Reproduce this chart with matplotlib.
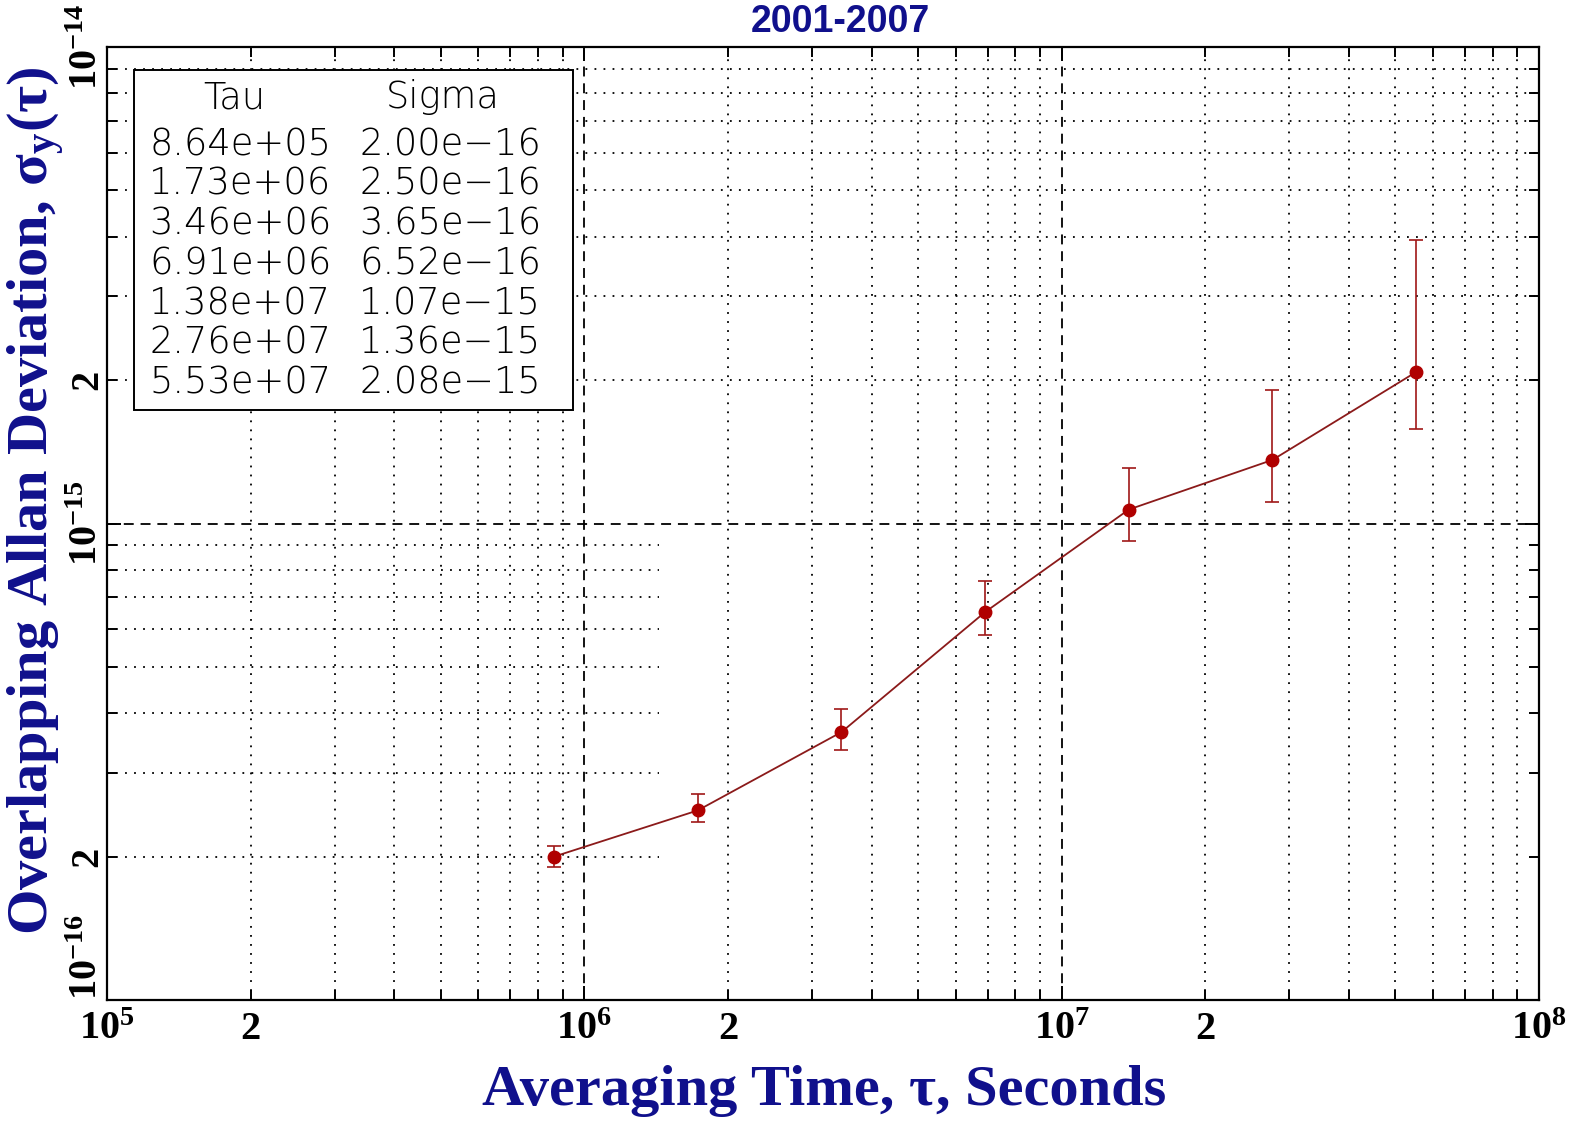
import matplotlib
matplotlib.use("Agg")
import matplotlib.pyplot as plt
from matplotlib.patches import Rectangle
import numpy as np

# Allan deviation results, 2001-2007
tau = [8.64e5, 1.728e6, 3.456e6, 6.912e6, 1.3824e7, 2.7648e7, 5.5296e7]
sigma = [2.00e-16, 2.50e-16, 3.65e-16, 6.52e-16, 1.07e-15, 1.36e-15, 2.08e-15]
sigma_lo = [1.90e-16, 2.36e-16, 3.34e-16, 5.83e-16, 0.92e-15, 1.11e-15, 1.58e-15]
sigma_hi = [2.10e-16, 2.70e-16, 4.08e-16, 7.58e-16, 1.31e-15, 1.91e-15, 3.93e-15]

x_decades = [1e5, 1e6, 1e7, 1e8]
y_decades = [1e-16, 1e-15, 1e-14]
mantissas = [2, 3, 4, 5, 6, 7, 8, 9]

navy = "#10108c"

plt.rcParams["font.family"] = ["Liberation Serif", "DejaVu Serif"]
plt.rcParams["font.weight"] = "bold"
plt.rcParams["mathtext.fontset"] = "custom"
plt.rcParams["mathtext.rm"] = "Liberation Serif:bold"
plt.rcParams["mathtext.it"] = "Liberation Serif:bold"
plt.rcParams["mathtext.bf"] = "Liberation Serif:bold"

fig = plt.figure(figsize=(15.77, 11.23), dpi=100)
ax = fig.add_axes([0.0679, 0.1095, 0.9080, 0.8486])
ax.set_xscale("log")
ax.set_yscale("log")
ax.set_xlim(x_decades[0], x_decades[-1])
ax.set_ylim(y_decades[0], y_decades[-1])

x_minor = [m * d for d in x_decades[:-1] for m in mantissas]
y_minor = [m * d for d in y_decades[:-1] for m in mantissas]

# grid: dashed at decades, dotted at minor positions
dot = (0, (1, 4))
dash = (0, (5.5, 3.8))
for v in x_decades[1:-1]:
    ax.axvline(v, color="black", lw=1.3, ls=dash, zorder=1)
for v in x_minor:
    ax.axvline(v, color="black", lw=1.3, ls=dot, zorder=1)
for v in y_decades[1:-1]:
    ax.axhline(v, color="black", lw=1.3, ls=dash, zorder=1)
for v in y_minor:
    if v < y_decades[1]:
        ax.hlines(v, x_decades[0], 1.43e6, color="black", lw=1.3, ls=dot, zorder=1)
    else:
        ax.axhline(v, color="black", lw=1.3, ls=dot, zorder=1)

# data
yerr = [np.array(sigma) - np.array(sigma_lo), np.array(sigma_hi) - np.array(sigma)]
ax.errorbar(tau, sigma, yerr=yerr, fmt="none", ecolor="#a01818",
            elinewidth=1.2, capsize=5, capthick=1.2, zorder=3)
ax.plot(tau, sigma, color="#8b1a1a", lw=1.3, zorder=4)
ax.plot(tau, sigma, "o", color="#b00000", ms=9, zorder=5)


def two_label(v):
    return "2" if abs(v / 10 ** np.floor(np.log10(v)) - 2) < 1e-6 else ""


# ticks
ax.set_xticks(x_decades, [f"$10^{{{int(round(np.log10(v)))}}}$" for v in x_decades])
ax.set_xticks(x_minor, [two_label(v) for v in x_minor], minor=True)
ax.set_yticks(y_decades, [f"$10^{{{int(round(np.log10(v)))}}}$" for v in y_decades])
ax.set_yticks(y_minor, [two_label(v) for v in y_minor], minor=True)
ax.tick_params(which="both", direction="in", top=True, right=True,
               labelsize=29, width=1.4, colors="black")
ax.tick_params(which="major", length=10)
ax.tick_params(which="minor", length=7)
ax.tick_params(axis="x", which="both", pad=8)
ax.tick_params(axis="y", which="both", pad=14)
ylabs = ax.get_yticklabels(which="both")
for lab in ylabs:
    lab.set_rotation(90)
    lab.set_rotation_mode("anchor")
    lab.set_ha("center")
    lab.set_va("center")
ax.get_yticklabels()[0].set_ha("left")
for s in ax.spines.values():
    s.set_linewidth(1.6)

# table box
ax.add_patch(Rectangle((0.0189, 0.619), 0.3065, 0.357, transform=ax.transAxes,
                       facecolor="white", edgecolor="black", lw=1.4, zorder=6))
tfont = dict(family="DejaVu Sans", fontweight="light", fontsize=26.5,
             transform=ax.transAxes, ha="center", va="center", zorder=7)
ax.text(0.0887, 0.9475, "Tau", **tfont)
ax.text(0.2343, 0.9475, "Sigma", **tfont)
for i, (t, s) in enumerate(zip(tau, sigma)):
    y = 0.898 - i * 0.04166
    ax.text(0.0929, y, f"{t:.2e}", **tfont)
    ax.text(0.2395, y, f"{s:.2e}".replace("-", "\u2212"), **tfont)

# titles and labels
fig.text(0.5326, 0.980, "2001-2007", color=navy, fontsize=27, fontweight="bold",
         family=["Liberation Sans", "DejaVu Sans"], ha="center", va="center")
fig.text(0.5225, 0.0285, "Averaging Time, τ, Seconds", color=navy, fontsize=42,
         fontweight="bold", ha="center", va="center")
fig.text(0.0305, 0.554, "Overlapping Allan Deviation, σ$_{y}$(τ)", color=navy,
         fontsize=42, fontweight="bold", rotation=90, rotation_mode="anchor",
         ha="center", va="baseline")

fig.savefig("out.png", dpi=100, facecolor="white")
